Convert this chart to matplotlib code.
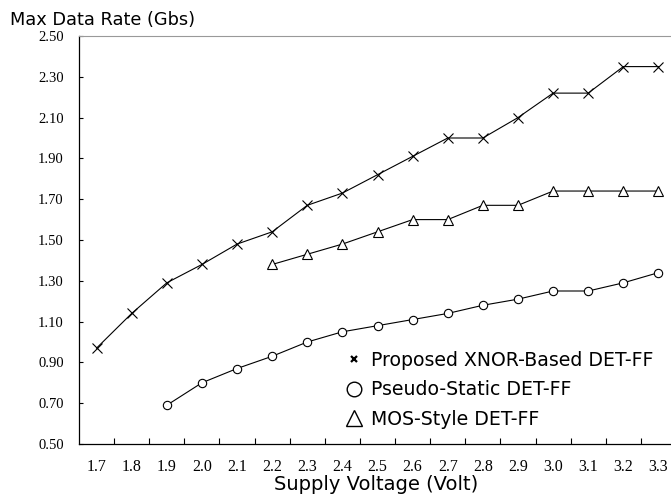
import matplotlib
matplotlib.use("Agg")

import matplotlib.pyplot as plt
from matplotlib.lines import Line2D

# supply voltage categories (x axis)
volts = ['1.7', '1.8', '1.9', '2.0', '2.1', '2.2', '2.3', '2.4', '2.5',
         '2.6', '2.7', '2.8', '2.9', '3.0', '3.1', '3.2', '3.3']

# max data rate (Gbs) per design
xnor_volts = volts
xnor_rate = [0.97, 1.14, 1.29, 1.38, 1.48, 1.54, 1.67, 1.73, 1.82,
             1.91, 2.00, 2.00, 2.10, 2.22, 2.22, 2.35, 2.35]

pseudo_volts = volts[2:]
pseudo_rate = [0.69, 0.80, 0.87, 0.93, 1.00, 1.05, 1.08, 1.11,
               1.14, 1.18, 1.21, 1.25, 1.25, 1.29, 1.34]

mos_volts = volts[5:]
mos_rate = [1.38, 1.43, 1.48, 1.54, 1.60, 1.60, 1.67, 1.67,
            1.74, 1.74, 1.74, 1.74]

y_ticks = [0.50, 0.70, 0.90, 1.10, 1.30, 1.50, 1.70, 1.90, 2.10, 2.30, 2.50]

W, H = 671, 500
fig = plt.figure(figsize=(W / 100, H / 100), dpi=100)
ax = fig.add_axes([79 / W, 56 / H, (676 - 79) / W, (444 - 36) / H])


def idx(vs):
    return [volts.index(v) for v in vs]


ax.plot(idx(xnor_volts), xnor_rate, color='black', lw=0.8,
        marker='x', ms=7.5, mew=0.8, zorder=3)
ax.plot(idx(pseudo_volts), pseudo_rate, color='black', lw=0.8,
        marker='o', ms=6, mew=0.8, mfc='white', zorder=3)
ax.plot(idx(mos_volts), mos_rate, color='black', lw=0.8,
        marker='^', ms=7, mew=0.8, mfc='white', zorder=3)

ax.set_xlim(-0.5, len(volts) - 0.5)
ax.set_ylim(0.5, 2.5)

# category labels centered, tick marks on the band edges
ax.set_xticks(range(len(volts)))
ax.set_xticklabels(volts, fontfamily='Liberation Serif', fontsize=11.5)
ax.set_xticks([i + 0.5 for i in range(len(volts) - 1)], minor=True)
ax.tick_params(axis='x', which='major', length=0, pad=11)
ax.tick_params(axis='x', which='minor', direction='in', length=4, width=0.8)

ax.set_yticks(y_ticks)
ax.set_yticklabels(['%.2f' % v for v in y_ticks],
                   fontfamily='Liberation Serif', fontsize=10.5)
ax.tick_params(axis='y', direction='in', length=3, width=0.8, pad=11)

ax.spines['right'].set_visible(False)
ax.spines['top'].set_color('#999999')
for s in ['left', 'bottom']:
    ax.spines[s].set_linewidth(0.9)

fig.text(10 / W, 1 - 20 / H, 'Max Data Rate (Gbs)', ha='left', va='center',
         fontfamily='DejaVu Sans', fontsize=12.8)
fig.text(376 / W, 1 - 485 / H, 'Supply Voltage (Volt)', ha='center',
         va='center', fontfamily='DejaVu Sans', fontsize=14)

handles = [
    Line2D([], [], ls='none', color='black', marker='x', ms=5, mew=1.6),
    Line2D([], [], ls='none', color='black', marker='o', ms=10.5, mew=1.0,
           mfc='white'),
    Line2D([], [], ls='none', color='black', marker='^', ms=11, mew=1.0,
           mfc='white'),
]
labels = ['Proposed XNOR-Based DET-FF', 'Pseudo-Static DET-FF',
          'MOS-Style DET-FF']
ax.legend(handles, labels, loc='upper left',
          bbox_to_anchor=(343 / W, 1 - 351 / H), bbox_transform=fig.transFigure,
          frameon=False, borderpad=0, borderaxespad=0, handlelength=1.2,
          handletextpad=0.3, labelspacing=0.55,
          prop={'family': 'DejaVu Sans', 'size': 13.6})

fig.savefig('out.png', dpi=100)
